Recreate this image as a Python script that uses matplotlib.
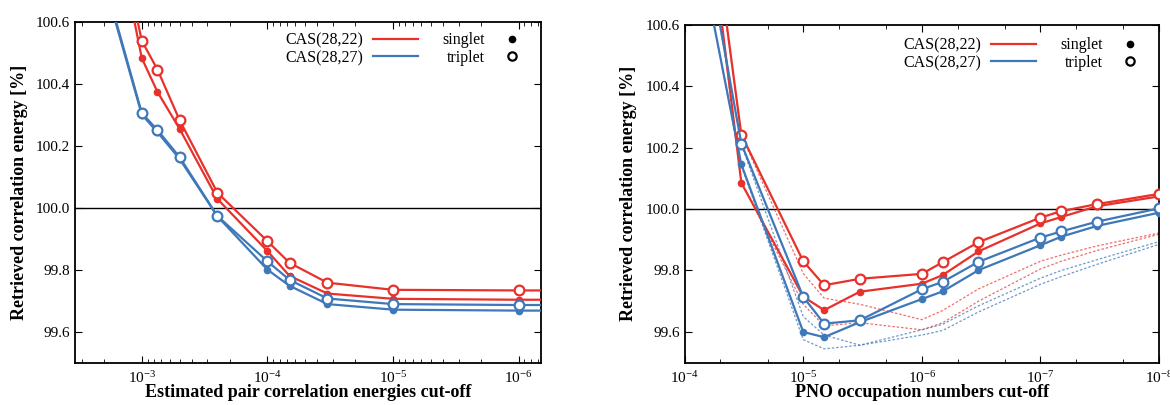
import matplotlib
matplotlib.use('Agg')
import matplotlib.pyplot as plt
from matplotlib.lines import Line2D
from matplotlib import ticker

plt.rcParams['font.family'] = ['Liberation Serif', 'DejaVu Serif']
plt.rcParams['mathtext.fontset'] = 'stix'

RED = '#e8312b'
BLUE = '#3f78b9'

# left panel: estimated pair correlation energies cut-off
pair_cut = [2e-3, 1e-3, 7.5e-4, 5e-4, 2.5e-4, 1e-4, 6.67e-5, 3.33e-5, 1e-5, 1e-6, 1e-7]
pair_red_s = [101.09, 100.482, 100.373, 100.254, 100.028, 99.860, 99.780, 99.723, 99.706, 99.703, 99.703]
pair_red_t = [101.11, 100.538, 100.445, 100.282, 100.048, 99.892, 99.822, 99.758, 99.735, 99.733, 99.733]
pair_blue_s = [100.73, 100.300, 100.243, 100.157, 99.972, 99.800, 99.748, 99.689, 99.671, 99.668, 99.668]
pair_blue_t = [100.74, 100.305, 100.250, 100.163, 99.973, 99.827, 99.767, 99.707, 99.689, 99.686, 99.686]

# right panel: PNO occupation numbers cut-off
pno_cut = [6.67e-5, 3.33e-5, 1e-5, 6.67e-6, 3.33e-6, 1e-6, 6.67e-7, 3.33e-7, 1e-7, 6.67e-8, 3.33e-8, 1e-8]
pno_red_s = [101.04, 100.085, 99.715, 99.671, 99.731, 99.757, 99.785, 99.862, 99.953, 99.974, 100.009, 100.041]
pno_red_t = [101.12, 100.242, 99.830, 99.752, 99.773, 99.789, 99.827, 99.892, 99.972, 99.993, 100.016, 100.049]
pno_blue_s = [100.74, 100.145, 99.600, 99.583, 99.632, 99.707, 99.732, 99.801, 99.882, 99.910, 99.945, 99.988]
pno_blue_t = [100.86, 100.213, 99.714, 99.627, 99.638, 99.739, 99.763, 99.828, 99.907, 99.927, 99.959, 100.002]
# dotted reference curves
pno_red_dot_a = [101.10, 100.24, 99.79, 99.71, 99.69, 99.640, 99.67, 99.74, 99.83, 99.85, 99.88, 99.922]
pno_red_dot_b = [101.00, 100.09, 99.69, 99.62, 99.63, 99.607, 99.63, 99.70, 99.805, 99.83, 99.865, 99.918]
pno_blue_dot_a = [100.85, 100.21, 99.65, 99.59, 99.557, 99.607, 99.625, 99.685, 99.775, 99.80, 99.835, 99.894]
pno_blue_dot_b = [100.74, 100.14, 99.575, 99.545, 99.557, 99.59, 99.605, 99.665, 99.755, 99.78, 99.82, 99.885]

yticks = [99.6, 99.8, 100.0, 100.2, 100.4, 100.6]


def draw_series(ax, x, ys, color, filled):
    if filled:
        ax.plot(x, ys, '-', color=color, lw=1.6, marker='o', ms=4.5,
                mfc=color, mec=color, zorder=3)
    else:
        ax.plot(x, ys, '-', color=color, lw=1.6, marker='o', ms=7,
                mfc='white', mec=color, mew=1.6, zorder=4)


def style_axes(ax, xlabel):
    ax.set_xscale('log')
    ax.set_ylim(99.5, 100.6)
    ax.set_yticks(yticks)
    ax.yaxis.set_major_formatter(ticker.FormatStrFormatter('%.1f'))
    ax.axhline(100.0, color='black', lw=1.0, zorder=1)
    ax.tick_params(which='both', direction='in', top=True, right=True, labelsize=11)
    ax.tick_params(which='major', length=5)
    ax.tick_params(which='minor', length=3)
    ax.tick_params(axis='x', which='major', pad=5)
    ax.xaxis.set_major_locator(ticker.LogLocator(base=10, numticks=20))
    ax.xaxis.set_major_formatter(ticker.LogFormatterSciNotation())
    for s in ax.spines.values():
        s.set_linewidth(1.3)
    ax.set_xlabel(xlabel, fontsize=13, fontweight='bold', labelpad=-1)
    ax.set_ylabel('Retrieved correlation energy [%]', fontsize=13, fontweight='bold', labelpad=6)


def add_legend(ax, x1, x2, y):
    h1 = [Line2D([], [], color=RED, lw=1.6), Line2D([], [], color=BLUE, lw=1.6)]
    leg1 = ax.legend(h1, ['CAS(28,22)', 'CAS(28,27)'], loc='upper right',
                     bbox_to_anchor=(x1, y), frameon=False, markerfirst=False,
                     fontsize=11.5, handlelength=2.8, handletextpad=0.6,
                     labelspacing=0.1, borderaxespad=0, borderpad=0)
    ax.add_artist(leg1)
    h2 = [Line2D([], [], ls='none', marker='o', ms=4.5, color='black'),
          Line2D([], [], ls='none', marker='o', ms=6, mfc='white', mec='black', mew=1.6)]
    ax.legend(h2, ['singlet', 'triplet'], loc='upper right',
              bbox_to_anchor=(x2, y), frameon=False, markerfirst=False,
              fontsize=11.5, handlelength=1.0, handletextpad=1.2,
              labelspacing=0.1, borderaxespad=0, borderpad=0)


fig = plt.figure(figsize=(11.7, 4.05), dpi=100)
ax1 = fig.add_axes([0.0641, 0.1044, 0.3986, 0.8425])
ax2 = fig.add_axes([0.5852, 0.1044, 0.4054, 0.835])

draw_series(ax1, pair_cut, pair_red_s, RED, True)
draw_series(ax1, pair_cut, pair_red_t, RED, False)
draw_series(ax1, pair_cut, pair_blue_s, BLUE, True)
draw_series(ax1, pair_cut, pair_blue_t, BLUE, False)
style_axes(ax1, 'Estimated pair correlation energies cut-off')
ax1.set_xlim(3.4e-3, 6.6e-7)
ax1.xaxis.set_minor_locator(ticker.LogLocator(base=10, subs=range(2, 10), numticks=20))
ax1.xaxis.set_minor_formatter(ticker.NullFormatter())
add_legend(ax1, 0.735, 0.955, 0.968)

dot = (0, (2, 1.5))
ax2.plot(pno_cut, pno_red_dot_a, color=RED, lw=0.9, ls=dot, alpha=0.7, zorder=2)
ax2.plot(pno_cut, pno_red_dot_b, color=RED, lw=0.9, ls=dot, alpha=0.7, zorder=2)
ax2.plot(pno_cut, pno_blue_dot_a, color=BLUE, lw=0.9, ls=dot, alpha=0.75, zorder=2)
ax2.plot(pno_cut, pno_blue_dot_b, color=BLUE, lw=0.9, ls=dot, alpha=0.75, zorder=2)
draw_series(ax2, pno_cut, pno_red_s, RED, True)
draw_series(ax2, pno_cut, pno_red_t, RED, False)
draw_series(ax2, pno_cut, pno_blue_s, BLUE, True)
draw_series(ax2, pno_cut, pno_blue_t, BLUE, False)
style_axes(ax2, 'PNO occupation numbers cut-off')
ax2.set_xlim(1e-4, 1e-8)
ax2.xaxis.set_minor_locator(ticker.LogLocator(base=10, subs=(2, 5), numticks=20))
ax2.xaxis.set_minor_formatter(ticker.NullFormatter())
add_legend(ax2, 0.74, 0.955, 0.962)

fig.savefig('out.png', dpi=100)
